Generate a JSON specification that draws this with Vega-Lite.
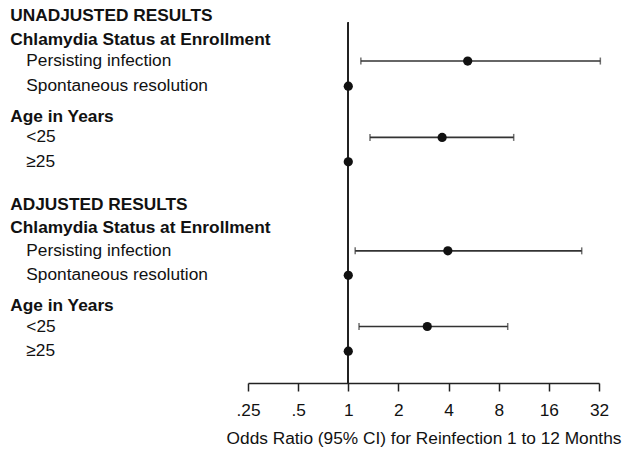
{
  "$schema": "https://vega.github.io/schema/vega-lite/v6.json",
  "width": 351,
  "height": 383,
  "padding": {"left": 10, "top": 0, "right": 5, "bottom": 5},
  "background": "white",
  "autosize": {"type": "pad"},
  "config": {
    "view": {"stroke": null},
    "font": "Liberation Sans"
  },
  "data": {
    "values": [
      {"label": "UNADJUSTED RESULTS", "kind": "header", "row": 0.66},
      {"label": "Chlamydia Status at Enrollment", "kind": "header", "row": 1.68},
      {"label": "Persisting infection", "kind": "item", "row": 2.55, "or": 5.21, "lo": 1.19, "hi": 32.6},
      {"label": "Spontaneous resolution", "kind": "item", "row": 3.6, "or": 1},
      {"label": "Age in Years", "kind": "header", "row": 4.88},
      {"label": "<25", "kind": "item", "row": 5.74, "or": 3.66, "lo": 1.35, "hi": 9.84},
      {"label": "≥25", "kind": "item", "row": 6.76, "or": 1},
      {"label": "ADJUSTED RESULTS", "kind": "header", "row": 8.55},
      {"label": "Chlamydia Status at Enrollment", "kind": "header", "row": 9.54},
      {"label": "Persisting infection", "kind": "item", "row": 10.48, "or": 3.96, "lo": 1.10, "hi": 25.2},
      {"label": "Spontaneous resolution", "kind": "item", "row": 11.5, "or": 1},
      {"label": "Age in Years", "kind": "header", "row": 12.79},
      {"label": "<25", "kind": "item", "row": 13.64, "or": 2.98, "lo": 1.16, "hi": 9.06},
      {"label": "≥25", "kind": "item", "row": 14.67, "or": 1}
    ]
  },
  "encoding": {
    "y": {"field": "row", "type": "quantitative", "scale": {"domain": [0, 16], "reverse": true, "nice": false, "zero": false}, "axis": null}
  },
  "layer": [
    {
      "encoding": {
        "x": {"field": "kind", "type": "nominal", "scale": {"type": "point", "domain": ["header", "item"], "range": [-237.7, -221.7], "padding": 0}, "axis": null}
      },
      "layer": [
        {
          "transform": [{"filter": "datum.kind === 'header'"}],
          "mark": {"type": "text", "align": "left", "baseline": "middle", "fontSize": 17.3, "fontWeight": "bold", "color": "#111"},
          "encoding": {"text": {"field": "label"}}
        },
        {
          "transform": [{"filter": "datum.kind === 'item'"}],
          "mark": {"type": "text", "align": "left", "baseline": "middle", "fontSize": 17.3, "fontWeight": "normal", "color": "#111"},
          "encoding": {"text": {"field": "label"}}
        }
      ]
    },
    {
      "layer": [
        {
          "mark": {"type": "rule", "color": "#222", "strokeWidth": 1.4},
          "encoding": {
            "x": {
              "datum": 1,
              "type": "quantitative",
              "scale": {"type": "log", "base": 2, "domain": [0.25, 32], "nice": false},
              "axis": {
                "values": [0.25, 0.5, 1, 2, 4, 8, 16, 32],
                "labelExpr": "replace(toString(datum.value), /^0/, '')",
                "grid": false,
                "domainColor": "#222",
                "domainWidth": 1.5,
                "tickColor": "#222",
                "tickWidth": 1.5,
                "tickSize": 8,
                "labelFont": "Liberation Sans",
                "labelFontSize": 17.3,
                "labelColor": "#111",
                "labelPadding": 10,
                "labelFlush": false,
                "labelOverlap": false,
                "title": "Odds Ratio (95% CI) for Reinfection 1 to 12 Months",
                "titleFont": "Liberation Sans",
                "titleFontSize": 17.3,
                "titleFontWeight": "normal",
                "titleColor": "#111",
                "titlePadding": 11
              }
            },
            "y": {"datum": 0.95},
            "y2": {"datum": 16}
          }
        },
        {
          "transform": [{"filter": "isValid(datum.lo)"}],
          "mark": {"type": "rule", "color": "#333", "strokeWidth": 1.6},
          "encoding": {
            "x": {"field": "lo", "type": "quantitative"},
            "x2": {"field": "hi"}
          }
        },
        {
          "transform": [{"filter": "isValid(datum.lo)"}],
          "mark": {"type": "tick", "orient": "vertical", "color": "#333", "size": 7, "thickness": 1.5},
          "encoding": {"x": {"field": "lo", "type": "quantitative"}}
        },
        {
          "transform": [{"filter": "isValid(datum.hi)"}],
          "mark": {"type": "tick", "orient": "vertical", "color": "#333", "size": 7, "thickness": 1.5},
          "encoding": {"x": {"field": "hi", "type": "quantitative"}}
        },
        {
          "transform": [{"filter": "isValid(datum.or)"}],
          "mark": {"type": "point", "filled": true, "opacity": 1, "color": "#111", "size": 85},
          "encoding": {"x": {"field": "or", "type": "quantitative"}}
        }
      ]
    }
  ],
  "resolve": {"scale": {"x": "independent"}, "axis": {"x": "independent"}}
}
